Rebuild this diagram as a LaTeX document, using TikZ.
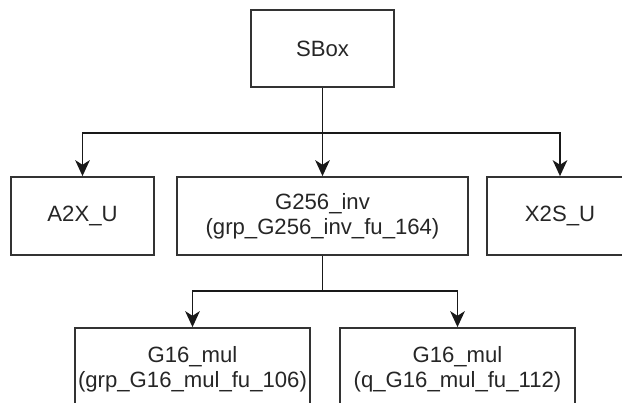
\documentclass[tikz,border=0pt]{standalone}
\usepackage{fontspec}
\setmainfont{Liberation Sans}
\usetikzlibrary{arrows.meta}
\begin{document}
\begin{tikzpicture}[x=0.75pt,y=-0.75pt,
  box/.style={draw=black!80, line width=1.3pt, fill=white, rectangle,
    align=center, inner sep=0pt, text=black!85,
    font=\fontsize{16.6}{18.75}\selectfont},
  arr/.style={draw=black!90, line width=1.3pt,
    -{Stealth[length=12pt,width=11pt,inset=3.5pt]}},
  link/.style={draw=black!90, line width=1.3pt}]
  \useasboundingbox (0,0) rectangle (622,403);
  \clip (0,0) rectangle (622,403);

  % top level
  \node[box, minimum width=107.25pt, minimum height=57.75pt] (sbox) at (322.5,48.5) {SBox};

  % second level
  \node[box, minimum width=107.25pt, minimum height=58.5pt] (a2x) at (82.5,216) {A2X\_U};
  \node[box, minimum width=218.25pt, minimum height=58.5pt] (g256) at (322.5,216) {G256\_inv\\(grp\_G256\_inv\_fu\_164)};
  \node[box, minimum width=109.5pt, minimum height=58.5pt] (x2s) at (560,216) {X2S\_U};

  % third level (runs past the lower edge)
  \node[box, minimum width=176.25pt, minimum height=61.5pt] (m1) at (192.5,369) {G16\_mul\\(grp\_G16\_mul\_fu\_106)};
  \node[box, minimum width=176.25pt, minimum height=61.5pt] (m2) at (457.5,369) {G16\_mul\\(q\_G16\_mul\_fu\_112)};

  % branch points
  \coordinate (j1) at (322.5,133);
  \coordinate (j2) at (322.5,291);

  % connectors
  \draw[arr] (sbox) -- (g256);
  \draw[arr] (j1) -| (a2x);
  \draw[arr] (j1) -| (x2s);
  \draw[link] (g256) -- (j2);
  \draw[arr] (j2) -| (m1);
  \draw[arr] (j2) -| (m2);
\end{tikzpicture}
\end{document}
